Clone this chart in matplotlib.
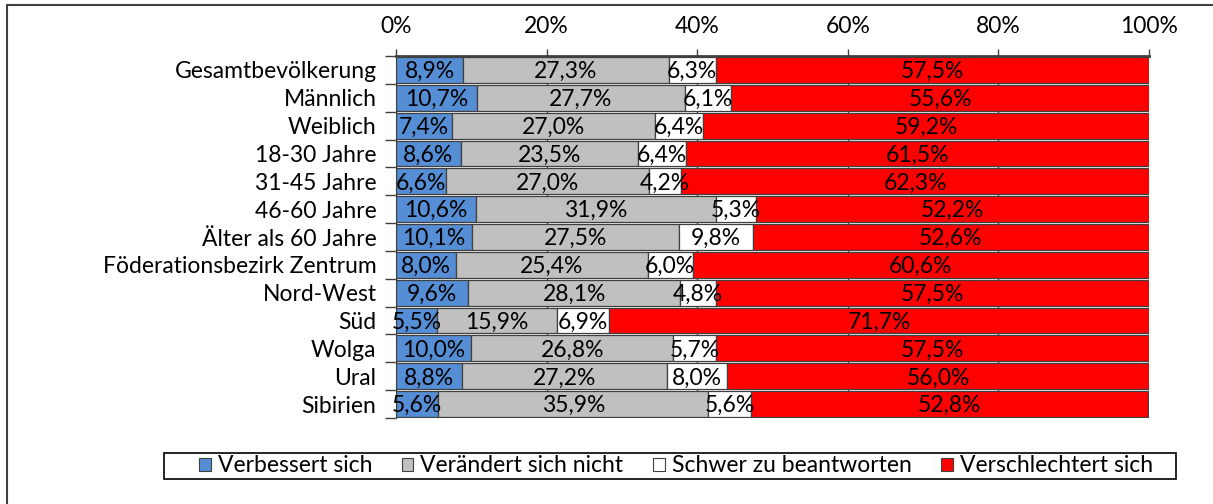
import matplotlib
matplotlib.use("Agg")
import matplotlib.pyplot as plt
from matplotlib.patches import Rectangle
import numpy as np

plt.rcParams['font.family'] = ['Lato', 'DejaVu Sans']

categories = ["Gesamtbevölkerung", "Männlich", "Weiblich", "18-30 Jahre", "31-45 Jahre",
              "46-60 Jahre", "Älter als 60 Jahre", "Föderationsbezirk Zentrum", "Nord-West",
              "Süd", "Wolga", "Ural", "Sibirien"]
verbessert = [8.9, 10.7, 7.4, 8.6, 6.6, 10.6, 10.1, 8.0, 9.6, 5.5, 10.0, 8.8, 5.6]
unveraendert = [27.3, 27.7, 27.0, 23.5, 27.0, 31.9, 27.5, 25.4, 28.1, 15.9, 26.8, 27.2, 35.9]
schwer = [6.3, 6.1, 6.4, 6.4, 4.2, 5.3, 9.8, 6.0, 4.8, 6.9, 5.7, 8.0, 5.6]
verschlechtert = [57.5, 55.6, 59.2, 61.5, 62.3, 52.2, 52.6, 60.6, 57.5, 71.7, 57.5, 56.0, 52.8]
series_names = ["Verbessert sich", "Verändert sich nicht", "Schwer zu beantworten", "Verschlechtert sich"]
colors = ["#558ED5", "#C0C0C0", "#FFFFFF", "#FF0000"]
xticks = [0, 20, 40, 60, 80, 100]

W, H = 1213, 504
fig = plt.figure(figsize=(W / 100, H / 100), dpi=100)
ax = fig.add_axes([396 / W, 1 - 418 / H, (1149 - 396) / W, (418 - 56) / H])

# outer frame
fig.patches.append(Rectangle((7 / W, -0.1), 1.2, 1 - 5 / H + 0.1, transform=fig.transFigure,
                             fill=False, edgecolor="#404040", linewidth=1.5))

y = np.arange(len(categories))
left = np.zeros(len(categories))
fs = 16.5
for vals, col, name in zip([verbessert, unveraendert, schwer, verschlechtert], colors, series_names):
    vals = np.array(vals)
    ax.barh(y, vals, left=left, height=0.93, color=col, edgecolor="#404040",
            linewidth=0.9, label=name, zorder=2)
    for yi, l, v in zip(y, left, vals):
        ax.text(l + v / 2, yi + 0.06, f"{v:.1f}%".replace(".", ","), ha="center", va="center",
                fontsize=fs, color="black", zorder=3)
    left += vals

ax.set_xlim(0, 100)
ax.set_ylim(len(categories) - 0.5, -0.5)
ax.xaxis.tick_top()
ax.set_xticks(xticks)
ax.set_xticklabels([f"{t}%" for t in xticks], fontsize=fs)
ax.tick_params(axis="x", length=5, width=1, color="#404040", pad=9)
ax.set_yticks(y)
ax.set_yticklabels(categories, fontsize=fs)
ax.set_yticks(np.arange(len(categories) + 1) - 0.5, minor=True)
ax.tick_params(axis="y", which="major", length=0, pad=14)
ax.tick_params(axis="y", which="minor", length=8, width=1, color="#404040")
ax.grid(axis="x", color="#404040", linewidth=1, zorder=0)
ax.set_axisbelow(True)
for s in ["right", "bottom"]:
    ax.spines[s].set_visible(False)
ax.spines["top"].set_linewidth(2)
ax.spines["top"].set_color("#404040")
ax.spines["left"].set_color("#404040")

# legend box
fig.patches.append(Rectangle((164 / W, 1 - 479 / H), (1176 - 164) / W, 26 / H,
                             transform=fig.transFigure, fill=False, edgecolor="black",
                             linewidth=1.2))
leg = fig.legend(loc="center", bbox_to_anchor=(676 / W, 1 - 466 / H), ncol=4, fontsize=fs,
                 frameon=False, handlelength=0.5, handleheight=0.5, handletextpad=0.3,
                 columnspacing=1.3, borderpad=0.1)
for h in leg.legend_handles:
    h.set_edgecolor("#404040")
    h.set_linewidth(0.8)

fig.savefig("out.png", dpi=100)
